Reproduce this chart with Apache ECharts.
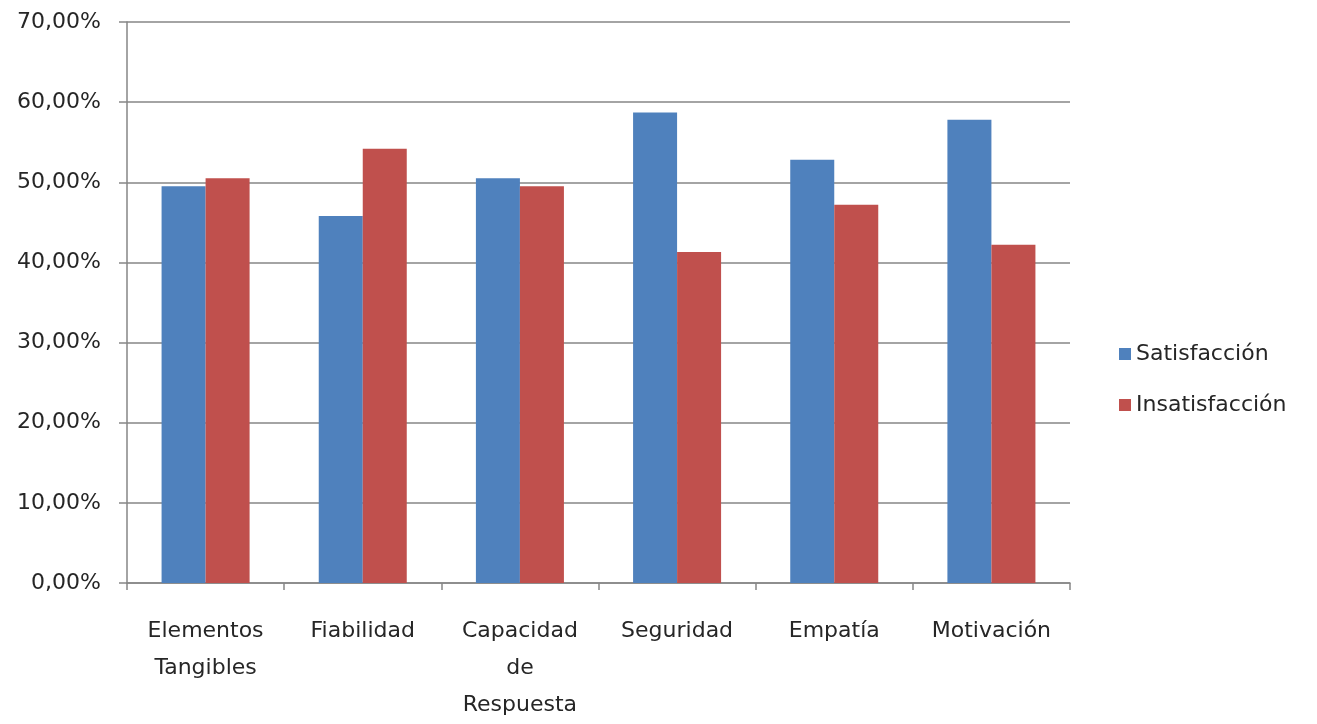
<!DOCTYPE html>
<html>
<head>
<meta charset="utf-8">
<script src="https://cdn.jsdelivr.net/npm/echarts@6/dist/echarts.min.js"></script>
<style>
  html, body { margin: 0; padding: 0; background: #ffffff; }
  #chart { width: 1317px; height: 724px; }
</style>
</head>
<body>
<div id="chart"></div>
<script>
// Service-quality dimensions and the share of respondents per outcome
const categories = ['Elementos Tangibles', 'Fiabilidad', 'Capacidad de Respuesta', 'Seguridad', 'Empatía', 'Motivación'];
const satisfaccion = [0.495, 0.458, 0.505, 0.587, 0.528, 0.578];
const insatisfaccion = [0.505, 0.542, 0.495, 0.413, 0.472, 0.422];
const seriesNames = ['Satisfacción', 'Insatisfacción'];
const yTicks = { min: 0, max: 0.7, step: 0.1 };

const FONT = 'DejaVu Sans';
const TEXT = '#262626';
const AXIS = '#868686';

const chart = echarts.init(document.getElementById('chart'), null, { renderer: 'canvas' });

chart.setOption({
  animation: false,
  textStyle: { fontFamily: FONT },
  grid: { left: 127, right: 247, top: 22, bottom: 141, containLabel: false },
  legend: {
    orient: 'vertical',
    left: 1114,
    top: 338,
    itemWidth: 12,
    itemHeight: 12,
    itemGap: 29,
    icon: 'rect',
    textStyle: { fontFamily: FONT, fontSize: 22, color: TEXT, padding: [0, 0, 0, 0] },
    data: seriesNames
  },
  xAxis: {
    type: 'category',
    data: categories,
    axisLine: { lineStyle: { color: AXIS, width: 1.5 } },
    axisTick: { show: true, length: 7, lineStyle: { color: AXIS, width: 1.5 } },
    axisLabel: {
      interval: 0,
      margin: 30,
      fontFamily: FONT,
      fontSize: 22,
      color: TEXT,
      lineHeight: 37,
      formatter: v => v.split(' ').join('\n')
    },
    splitLine: { show: false }
  },
  yAxis: {
    type: 'value',
    min: yTicks.min,
    max: yTicks.max,
    interval: yTicks.step,
    axisLine: { show: true, lineStyle: { color: AXIS, width: 1.5 } },
    axisTick: { show: true, length: 8, lineStyle: { color: AXIS, width: 1.5 } },
    axisLabel: {
      margin: 26,
      fontFamily: FONT,
      fontSize: 22,
      color: TEXT,
      formatter: v => (v * 100).toFixed(2).replace('.', ',') + '%'
    },
    splitLine: { show: true, lineStyle: { color: AXIS, width: 1.5 } }
  },
  series: [
    {
      name: seriesNames[0],
      type: 'bar',
      data: satisfaccion,
      itemStyle: { color: '#4F81BD' },
      barGap: '0%',
      barCategoryGap: '44%'
    },
    {
      name: seriesNames[1],
      type: 'bar',
      data: insatisfaccion,
      itemStyle: { color: '#C0504D' },
      barGap: '0%',
      barCategoryGap: '44%'
    }
  ]
});
</script>
</body>
</html>
